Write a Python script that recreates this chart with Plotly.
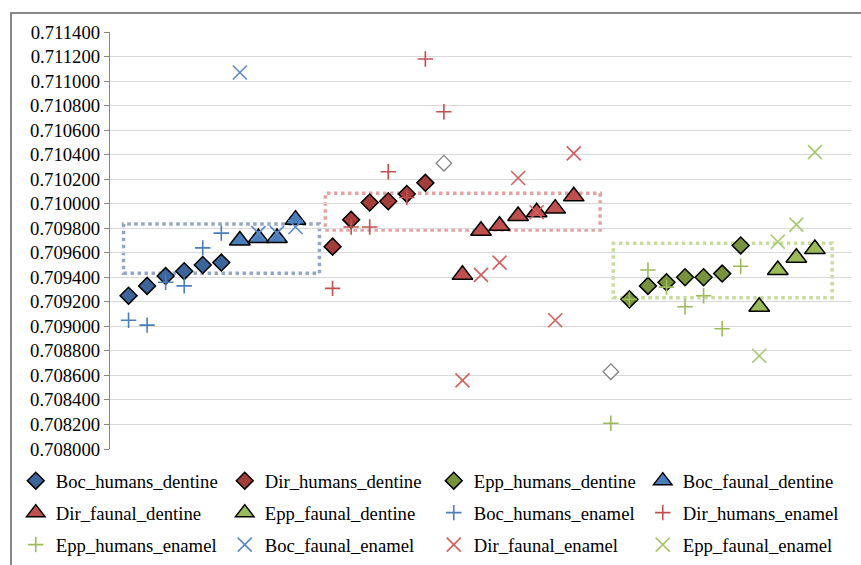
import plotly.graph_objects as go

# Sample numbers (position along the horizontal sequence) and 87Sr/86Sr values
boc_humans_dentine_n = [1, 2, 3, 4, 5, 6]
boc_humans_dentine = [0.709250, 0.709330, 0.709410, 0.709450, 0.709500, 0.709520]
boc_humans_enamel = [0.709050, 0.709010, 0.709360, 0.709330, 0.709640, 0.709760]

boc_faunal_n = [7, 8, 9, 10]
boc_faunal_dentine = [0.709700, 0.709720, 0.709720, 0.709870]
boc_faunal_enamel = [0.711070, 0.709760, 0.709760, 0.709810]

dir_humans_dentine_n = [12, 13, 14, 15, 16, 17]
dir_humans_dentine = [0.709650, 0.709870, 0.710010, 0.710020, 0.710080, 0.710170]
dir_humans_enamel_n = [12, 13, 14, 15, 16, 17, 18]
dir_humans_enamel = [0.709310, 0.709810, 0.709810, 0.710260, 0.710050, 0.711180, 0.710750]

dir_faunal_n = [19, 20, 21, 22, 23, 24, 25]
dir_faunal_dentine = [0.709420, 0.709780, 0.709820, 0.709900, 0.709930, 0.709960, 0.710060]
dir_faunal_enamel = [0.708560, 0.709420, 0.709520, 0.710210, 0.709930, 0.709050, 0.710410]

epp_humans_dentine_n = [28, 29, 30, 31, 32, 33, 34]
epp_humans_dentine = [0.709220, 0.709330, 0.709360, 0.709400, 0.709400, 0.709430, 0.709660]
epp_humans_enamel_n = [27, 28, 29, 30, 31, 32, 33, 34]
epp_humans_enamel = [0.708210, 0.709220, 0.709460, 0.709320, 0.709160, 0.709250, 0.708980, 0.709490]

epp_faunal_n = [35, 36, 37, 38]
epp_faunal_dentine = [0.709160, 0.709460, 0.709560, 0.709630]
epp_faunal_enamel = [0.708760, 0.709690, 0.709830, 0.710420]

# Dentine samples shown without fill
open_dentine_n = [18, 27]
open_dentine = [0.710330, 0.708630]

# Site ranges (sample span, value span) outlined with dotted boxes
box_sites = ["Boc", "Dir", "Epp"]
box_n_span = [(0.73, 11.29), (11.61, 26.42), (27.13, 38.93)]
box_value_span = [(0.709432, 0.709835), (0.709786, 0.710085), (0.709234, 0.709677)]

y_ticks = [0.708000 + 0.0002 * i for i in range(18)]

FONT = "Liberation Serif"

fig = go.Figure()

# unfilled dentine points
fig.add_trace(go.Scatter(
    x=open_dentine_n, y=open_dentine, mode="markers", showlegend=False,
    marker=dict(symbol="diamond", size=12, color="white",
                line=dict(color="#808080", width=1.2)),
    hoverinfo="skip"))


def diamonds(name, xs, ys, color, legend):
    fig.add_trace(go.Scatter(
        x=xs, y=ys, mode="markers", name=name, legend=legend,
        marker=dict(symbol="diamond", size=13, color=color,
                    line=dict(color="black", width=1.5))))


def triangles(name, xs, ys, color, legend):
    fig.add_trace(go.Scatter(
        x=xs, y=ys, mode="markers", name=name, legend=legend,
        marker=dict(symbol="triangle-up", size=18, color=color,
                    line=dict(color="black", width=1.5))))


def crosses(name, xs, ys, color, legend):
    fig.add_trace(go.Scatter(
        x=xs, y=ys, mode="markers", name=name, legend=legend,
        marker=dict(symbol="cross-thin", size=11, color=color,
                    line=dict(color=color, width=1.6))))


def xs_marks(name, xs, ys, color, legend):
    fig.add_trace(go.Scatter(
        x=xs, y=ys, mode="markers", name=name, legend=legend,
        marker=dict(symbol="x-thin", size=14, color=color,
                    line=dict(color=color, width=1.6))))


diamonds("Boc_humans_dentine", boc_humans_dentine_n, boc_humans_dentine, "#3B659B", "legend")
diamonds("Dir_humans_dentine", dir_humans_dentine_n, dir_humans_dentine, "#A33D3A", "legend")
diamonds("Epp_humans_dentine", epp_humans_dentine_n, epp_humans_dentine, "#77933C", "legend")
triangles("Boc_faunal_dentine", boc_faunal_n, boc_faunal_dentine, "#4A7EBB", "legend")
triangles("Dir_faunal_dentine", dir_faunal_n, dir_faunal_dentine, "#C0504D", "legend2")
triangles("Epp_faunal_dentine", epp_faunal_n, epp_faunal_dentine, "#9BBB59", "legend2")
crosses("Boc_humans_enamel", boc_humans_dentine_n, boc_humans_enamel, "#4A7EBB", "legend2")
crosses("Dir_humans_enamel", dir_humans_enamel_n, dir_humans_enamel, "#C0504D", "legend2")
crosses("Epp_humans_enamel", epp_humans_enamel_n, epp_humans_enamel, "#9BBB59", "legend3")
xs_marks("Boc_faunal_enamel", boc_faunal_n, boc_faunal_enamel, "#5A8AC6", "legend3")
xs_marks("Dir_faunal_enamel", dir_faunal_n, dir_faunal_enamel, "#D35F5F", "legend3")
xs_marks("Epp_faunal_enamel", epp_faunal_n, epp_faunal_enamel, "#A8C86C", "legend3")

box_colors = {"Boc": "#94A8C6", "Dir": "#E3A3A2", "Epp": "#C8DC9E"}
shapes = []
for site, (n0, n1), (v0, v1) in zip(box_sites, box_n_span, box_value_span):
    shapes.append(dict(type="rect", xref="x", yref="y", x0=n0, x1=n1, y0=v0, y1=v1,
                       line=dict(color=box_colors[site], width=3.5, dash="dot"),
                       layer="below"))
# chart frame
shapes.append(dict(type="rect", xref="paper", yref="paper",
                   x0=(11 - 110) / 742, x1=(870 - 110) / 742,
                   y0=(449 - 575) / 417, y1=(449 - 13) / 417,
                   line=dict(color="#878787", width=2)))

legend_common = dict(orientation="h", xanchor="left", yanchor="middle",
                     x=-0.127, font=dict(family=FONT, size=18.7, color="black"),
                     entrywidth=164, entrywidthmode="pixels",
                     bgcolor="rgba(0,0,0,0)", borderwidth=0,
                     itemclick=False, itemdoubleclick=False)

fig.update_layout(
    width=861, height=565,
    margin=dict(l=110, r=9, t=32, b=116, autoexpand=False),
    paper_bgcolor="white", plot_bgcolor="white",
    font=dict(family=FONT),
    showlegend=True,
    legend=dict(legend_common, y=(449 - 481) / 417),
    legend2=dict(legend_common, y=(449 - 513) / 417),
    legend3=dict(legend_common, y=(449 - 545) / 417),
    xaxis=dict(range=[0, 40], showgrid=False, showticklabels=False, ticks="",
               zeroline=False, showline=False),
    yaxis=dict(range=[0.708, 0.7114], tickvals=y_ticks, tickformat=".6f",
               showgrid=True, gridcolor="#D9D9D9", gridwidth=1.3,
               zeroline=False, showline=True, linecolor="#868686", linewidth=1.3,
               ticks="outside", ticklen=5, tickcolor="#868686", tickwidth=1.3,
               tickfont=dict(family=FONT, size=18.7, color="black")),
    shapes=shapes,
)

fig.write_html("out.html")
